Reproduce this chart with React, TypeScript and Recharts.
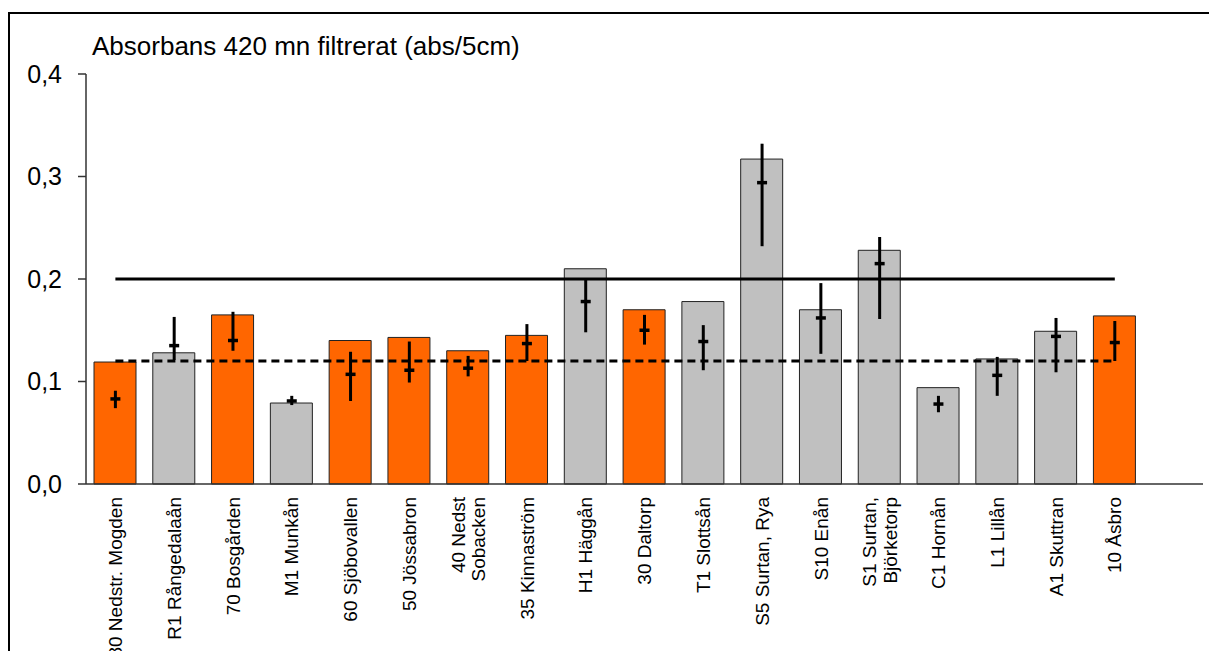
import { ComposedChart, Bar, Cell, Line, ErrorBar, XAxis, YAxis } from 'recharts';

// Stations along the river, upstream order as sampled
const stations = [
  '80 Nedstr. Mogden',
  'R1 Rångedalaån',
  '70 Bosgården',
  'M1 Munkån',
  '60 Sjöbovallen',
  '50 Jössabron',
  '40 Nedst\nSobacken',
  '35 Kinnaström',
  'H1 Häggån',
  '30 Daltorp',
  'T1 Slottsån',
  'S5 Surtan, Rya',
  'S10 Enån',
  'S1 Surtan,\nBjörketorp',
  'C1 Hornån',
  'L1 Lillån',
  'A1 Skuttran',
  '10 Åsbro',
];

// 'main' = huvudfåran, 'trib' = biflöde
const stationType = [
  'main', 'trib', 'main', 'trib', 'main', 'main', 'main', 'main', 'trib',
  'main', 'trib', 'trib', 'trib', 'trib', 'trib', 'trib', 'trib', 'main',
];

const meanValue = [
  0.119, 0.128, 0.165, 0.079, 0.140, 0.143, 0.130, 0.145, 0.210,
  0.170, 0.178, 0.317, 0.170, 0.228, 0.094, 0.122, 0.149, 0.164,
];

const medianValue = [
  0.083, 0.135, 0.140, 0.081, 0.107, 0.111, 0.113, 0.137, 0.178,
  0.150, 0.139, 0.294, 0.162, 0.215, 0.078, 0.106, 0.144, 0.138,
];

const minValue = [
  0.074, 0.121, 0.130, 0.077, 0.081, 0.099, 0.105, 0.120, 0.148,
  0.136, 0.111, 0.232, 0.127, 0.161, 0.070, 0.086, 0.109, 0.120,
];

const maxValue = [
  0.091, 0.163, 0.168, 0.086, 0.129, 0.139, 0.125, 0.156, 0.201,
  0.165, 0.155, 0.332, 0.196, 0.241, 0.086, 0.124, 0.162, 0.159,
];

const upperLimit = 0.2;
const lowerLimit = 0.12;

const yTicks = [0, 0.1, 0.2, 0.3, 0.4];

const COLORS: Record<string, string> = {
  main: '#FF6600',
  trib: '#C0C0C0',
};

const FONT = '"Liberation Sans", Arial, sans-serif';

const data = stations.map((name, i) => ({
  name,
  mean: meanValue[i],
  median: medianValue[i],
  range: [medianValue[i] - minValue[i], maxValue[i] - medianValue[i]],
  upper: upperLimit,
  lower: lowerLimit,
  type: stationType[i],
}));

function StationTick({ x, y, payload }: any) {
  const lines = String(payload.value).split('\n');
  const fs = 19;
  const lh = 20.5;
  return (
    <g transform={`translate(${x},${y})`}>
      <text transform="rotate(-90)" textAnchor="end" fontSize={fs} fontFamily={FONT} fill="#000">
        {lines.map((line, i) => (
          <tspan key={i} x={0} y={(i - (lines.length - 1) / 2) * lh + fs * 0.35}>
            {line}
          </tspan>
        ))}
      </text>
    </g>
  );
}

function MedianDash({ cx, cy }: any) {
  if (cx == null || cy == null) return null;
  return <line x1={cx - 5} x2={cx + 5} y1={cy} y2={cy} stroke="#000" strokeWidth={3.5} />;
}

export default function App() {
  return (
    <div style={{ position: 'fixed', left: 0, top: 0, width: 1209, height: 651, overflow: 'hidden', background: '#fff' }}>
      <div
        style={{
          position: 'absolute',
          left: 8,
          top: 12,
          width: 1300,
          height: 800,
          borderLeft: '2px solid #000',
          borderTop: '2px solid #000',
        }}
      />
      <div
        style={{
          position: 'absolute',
          left: 92,
          top: 33,
          fontFamily: FONT,
          fontSize: 26,
          lineHeight: '26px',
          color: '#000',
          whiteSpace: 'nowrap',
        }}
      >
        Absorbans 420 mn filtrerat (abs/5cm)
      </div>
      <div style={{ position: 'absolute', left: 0, top: 0 }}>
        <ComposedChart width={1209} height={651} data={data} margin={{ top: 74, right: 6, bottom: 0, left: 0 }}>
          <XAxis
            dataKey="name"
            interval={0}
            height={167}
            tickLine={false}
            tickSize={0}
            tickMargin={13}
            padding={{ left: 0, right: 58.8 }}
            axisLine={{ stroke: '#333', strokeWidth: 1.5 }}
            tick={<StationTick />}
          />
          <YAxis
            width={86}
            domain={[0, 0.4]}
            ticks={yTicks}
            interval={0}
            tickSize={8}
            tickMargin={16}
            tickFormatter={(v: number) => v.toFixed(1).replace('.', ',')}
            tick={{ fontSize: 25, fontFamily: FONT, fill: '#000' }}
            axisLine={{ stroke: '#333', strokeWidth: 1.5 }}
            tickLine={{ stroke: '#333', strokeWidth: 1.5 }}
          />
          <Bar dataKey="mean" barSize={42} stroke="#222" strokeWidth={1} isAnimationActive={false}>
            {data.map((d, i) => (
              <Cell key={`cell-${i}`} fill={COLORS[d.type]} />
            ))}
          </Bar>
          <Line dataKey="upper" stroke="#000" strokeWidth={3} dot={false} activeDot={false} isAnimationActive={false} />
          <Line
            dataKey="lower"
            stroke="#000"
            strokeWidth={3}
            strokeDasharray="8 5"
            dot={false}
            activeDot={false}
            isAnimationActive={false}
          />
          <Line
            dataKey="median"
            stroke="none"
            strokeWidth={0}
            dot={<MedianDash />}
            activeDot={false}
            isAnimationActive={false}
          >
            <ErrorBar dataKey="range" direction="y" width={0} stroke="#000" strokeWidth={3} />
          </Line>
        </ComposedChart>
      </div>
    </div>
  );
}
